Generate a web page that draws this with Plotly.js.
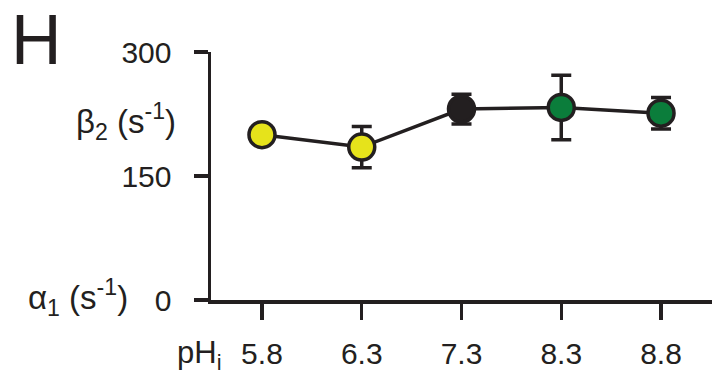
<!DOCTYPE html>
<html>
<head>
<meta charset="utf-8">
<script src="https://cdn.plot.ly/plotly-3.0.1.min.js"></script>
<style>html,body{margin:0;padding:0;background:#fff;}#chart{width:723px;height:379px;}</style>
</head>
<body>
<div id="chart"></div>
<script>
const categories = ["5.8", "6.3", "7.3", "8.3", "8.8"];
const beta2 = [200, 185, 231, 233, 226];
const beta2Err = [0, 25, 18, 39, 19];
const markerColors = ["#E6E31B", "#E6E31B", "#231F20", "#0B7D3B", "#0B7D3B"];
const yTicks = [0, 150, 300];

const ink = "#231F20";
const font = "Liberation Sans, Arial, Helvetica, sans-serif";
const xIdx = categories.map((c, i) => i);

const trace = {
  x: xIdx,
  y: beta2,
  type: "scatter",
  mode: "lines+markers",
  line: {color: ink, width: 3.5},
  marker: {size: 26, color: markerColors, line: {color: ink, width: 3.5}},
  error_y: {type: "data", array: beta2Err, visible: true, color: ink, thickness: 3.5, width: 10},
  cliponaxis: false,
  hoverinfo: "skip"
};

const plotW = 723 - 211 - 11, plotH = 379 - 52 - 79;
function px(x) { return (x - 211) / plotW; }
function py(y) { return (379 - 79 - y) / plotH; }

const layout = {
  width: 723, height: 379,
  margin: {l: 211, r: 11, t: 52, b: 79},
  paper_bgcolor: "#fff", plot_bgcolor: "#fff",
  showlegend: false,
  font: {family: font, color: ink, size: 30},
  xaxis: {
    range: [-0.511, 4.511],
    tickvals: xIdx, ticktext: categories,
    showgrid: false, zeroline: false,
    showline: true, linecolor: ink, linewidth: 3.5,
    ticks: "outside", ticklen: 16, tickwidth: 3.5, tickcolor: ink,
    ticklabelstandoff: 8,
    tickfont: {size: 30, family: font, color: ink}
  },
  yaxis: {
    range: [0, 300],
    tickvals: yTicks, ticktext: yTicks.map(String),
    showgrid: false, zeroline: false,
    showline: true, linecolor: ink, linewidth: 3.5,
    ticks: "outside", ticklen: 14, tickwidth: 3.5, tickcolor: ink,
    ticklabelstandoff: 16,
    tickfont: {size: 30, family: font, color: ink}
  },
  annotations: [
    {text: "H", x: px(10), y: py(0), xref: "paper", yref: "paper", xanchor: "left", yanchor: "top", borderpad: 0, showarrow: false, font: {size: 70, family: font, color: ink}},
    {text: "β<sub>2</sub> (s<sup>-1</sup>)", x: px(178), y: py(121), xref: "paper", yref: "paper", xanchor: "right", yanchor: "middle", showarrow: false, font: {size: 33, family: font, color: ink}},
    {text: "α<sub>1</sub> (s<sup>-1</sup>)", x: px(130), y: py(297), xref: "paper", yref: "paper", xanchor: "right", yanchor: "middle", showarrow: false, font: {size: 33, family: font, color: ink}},
    {text: "pH<sub>i</sub>", x: px(223), y: py(355), xref: "paper", yref: "paper", xanchor: "right", yanchor: "middle", showarrow: false, font: {size: 31, family: font, color: ink}}
  ]
};

Plotly.newPlot("chart", [trace], layout, {staticPlot: true, displayModeBar: false});
</script>
</body>
</html>
